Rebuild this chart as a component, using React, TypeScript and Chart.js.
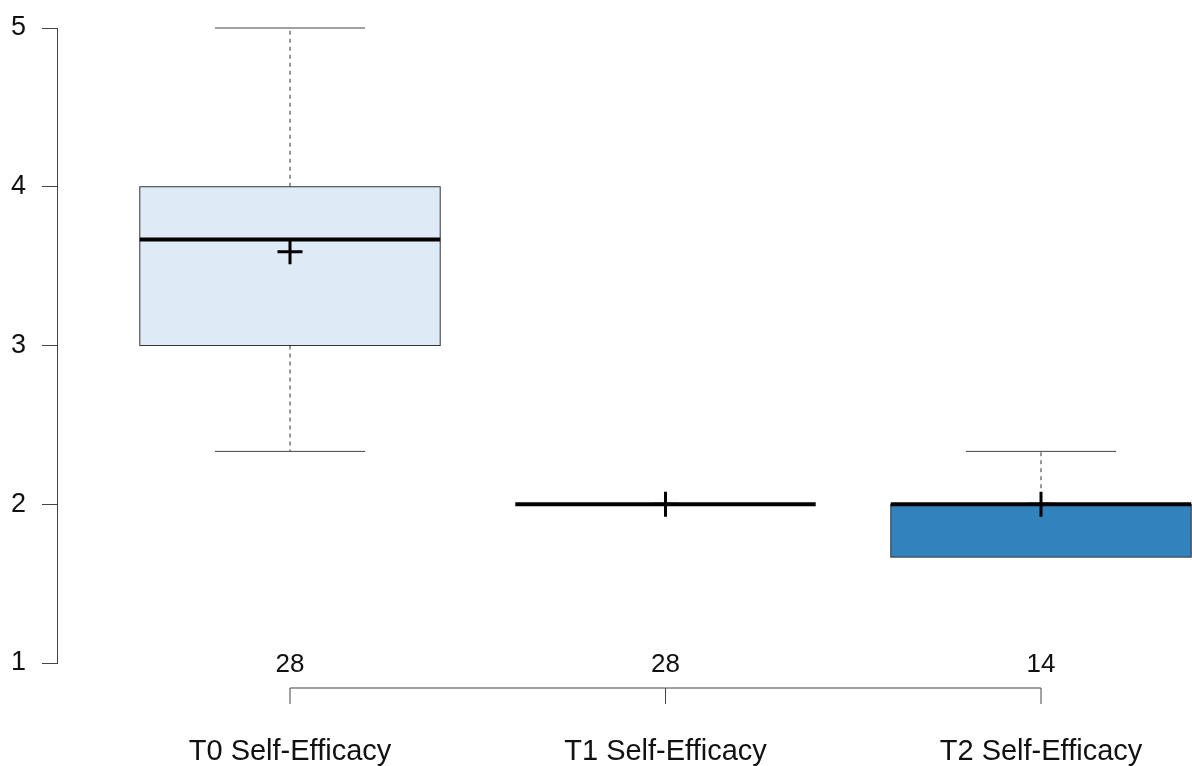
import { useEffect, useRef } from 'react';
import { Chart, registerables } from 'chart.js';

Chart.register(...registerables);

const categories = ['T0 Self-Efficacy', 'T1 Self-Efficacy', 'T2 Self-Efficacy'];
const counts = [28, 28, 14];
const whiskerLow = [2.333, 2, 1.667];
const q1 = [3, 2, 1.667];
const medians = [3.667, 2, 2];
const q3 = [4, 2, 2];
const whiskerHigh = [5, 2, 2.333];
const means = [3.59, 2, 2];
const boxColors = ['#deebf7', '#9ecae1', '#3182bd'];
const yTicks = [1, 2, 3, 4, 5];

const FONT = '"Liberation Sans", Arial, Helvetica, sans-serif';

const boxPlugin = {
  id: 'boxplotDraw',
  beforeDatasetsDraw(chart: any) {
    const { ctx, scales } = chart;
    const xs = scales.x;
    const ys = scales.y;
    const boxHalf = 0.4;
    const capHalf = 0.2;
    ctx.save();
    categories.forEach((_, i) => {
      const c = i + 1;
      const xc = xs.getPixelForValue(c);
      const xl = xs.getPixelForValue(c - boxHalf);
      const xr = xs.getPixelForValue(c + boxHalf);
      const cl = xs.getPixelForValue(c - capHalf);
      const cr = xs.getPixelForValue(c + capHalf);
      const yq1 = ys.getPixelForValue(q1[i]);
      const yq3 = ys.getPixelForValue(q3[i]);
      const ylo = ys.getPixelForValue(whiskerLow[i]);
      const yhi = ys.getPixelForValue(whiskerHigh[i]);
      const ymed = ys.getPixelForValue(medians[i]);

      // whiskers
      ctx.strokeStyle = '#333';
      ctx.lineWidth = 1;
      ctx.setLineDash([4, 4]);
      if (whiskerHigh[i] > q3[i]) {
        ctx.beginPath();
        ctx.moveTo(xc, yq3);
        ctx.lineTo(xc, yhi);
        ctx.stroke();
      }
      if (whiskerLow[i] < q1[i]) {
        ctx.beginPath();
        ctx.moveTo(xc, yq1);
        ctx.lineTo(xc, ylo);
        ctx.stroke();
      }
      ctx.setLineDash([]);
      // staples
      ctx.strokeStyle = '#444';
      if (whiskerHigh[i] > q3[i]) {
        ctx.beginPath();
        ctx.moveTo(cl, yhi);
        ctx.lineTo(cr, yhi);
        ctx.stroke();
      }
      if (whiskerLow[i] < q1[i]) {
        ctx.beginPath();
        ctx.moveTo(cl, ylo);
        ctx.lineTo(cr, ylo);
        ctx.stroke();
      }
      // box
      if (q3[i] > q1[i]) {
        ctx.fillStyle = boxColors[i];
        ctx.fillRect(xl, yq3, xr - xl, yq1 - yq3);
        ctx.strokeStyle = '#333';
        ctx.lineWidth = 1;
        ctx.strokeRect(xl, yq3, xr - xl, yq1 - yq3);
      }
      // median
      ctx.strokeStyle = '#000';
      ctx.lineWidth = 4;
      ctx.lineCap = 'butt';
      ctx.beginPath();
      ctx.moveTo(xl, ymed);
      ctx.lineTo(xr, ymed);
      ctx.stroke();
    });

    // bottom annotation: counts, bracket axis, category labels
    const x1 = xs.getPixelForValue(1);
    const x3 = xs.getPixelForValue(categories.length);
    const axisY = 688;
    ctx.strokeStyle = '#444';
    ctx.lineWidth = 1;
    ctx.beginPath();
    ctx.moveTo(x1, axisY);
    ctx.lineTo(x3, axisY);
    ctx.stroke();
    ctx.fillStyle = '#111';
    ctx.textAlign = 'center';
    ctx.textBaseline = 'alphabetic';
    categories.forEach((label, i) => {
      const xc = xs.getPixelForValue(i + 1);
      ctx.beginPath();
      ctx.moveTo(xc, axisY);
      ctx.lineTo(xc, axisY + 16);
      ctx.stroke();
      ctx.font = `26px ${FONT}`;
      ctx.fillText(String(counts[i]), xc, 672);
      ctx.font = `29px ${FONT}`;
      ctx.fillText(label, xc, 760);
    });
    ctx.restore();
  },
};

export default function App() {
  const ref = useRef<HTMLCanvasElement>(null);
  useEffect(() => {
    document.body.style.margin = '0';
    const chart = new Chart(ref.current as HTMLCanvasElement, {
      type: 'scatter',
      data: {
        datasets: [
          {
            label: 'Mean',
            data: means.map((m, i) => ({ x: i + 1, y: m })),
            pointStyle: 'cross',
            pointRadius: 12.5,
            pointHoverRadius: 12.5,
            borderColor: '#000',
            backgroundColor: '#000',
            borderWidth: 3,
            pointBorderWidth: 3,
            showLine: false,
          } as any,
        ],
      },
      options: {
        animation: false,
        responsive: false,
        maintainAspectRatio: false,
        events: [],
        layout: { autoPadding: false, padding: { top: 28, bottom: 103, left: 0, right: 0 } },
        plugins: {
          legend: { display: false },
          tooltip: { enabled: false },
        },
        scales: {
          x: {
            type: 'linear',
            display: false,
            min: 0.3795,
            max: 3.4021,
          },
          y: {
            type: 'linear',
            min: 1,
            max: 5,
            afterFit: (s: any) => {
              s.width = 57;
              s.paddingTop = 0;
              s.paddingBottom = 0;
            },
            afterBuildTicks: (s: any) => {
              s.ticks = yTicks.map((v) => ({ value: v }));
            },
            ticks: {
              font: { size: 27, family: FONT },
              color: '#111',
              padding: 16,
            },
            grid: {
              drawOnChartArea: false,
              tickLength: 15,
              color: '#444',
              lineWidth: 1,
            },
            border: { color: '#444', width: 1 },
          },
        },
      } as any,
      plugins: [boxPlugin],
    });
    return () => chart.destroy();
  }, []);
  return (
    <div style={{ position: 'fixed', left: 0, top: 0, width: 1192, height: 766 }}>
      <canvas ref={ref} width={1192} height={766} style={{ display: 'block' }} />
    </div>
  );
}
